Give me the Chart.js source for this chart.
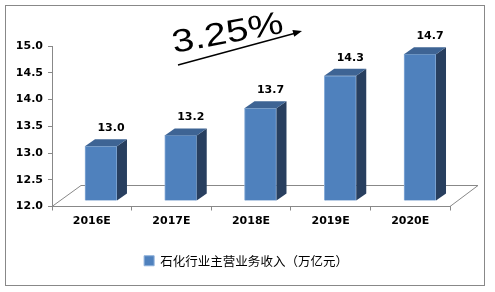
<!DOCTYPE html>
<html>
<head>
<meta charset="utf-8">
<script src="https://cdn.jsdelivr.net/npm/chart.js@4"></script>
<style>
  body { margin: 0; background: #fff; }
  #wrap { width: 495px; height: 292px; }
</style>
</head>
<body>
<div id="wrap"><canvas id="salechart" width="495" height="292"></canvas></div>
<script>
var years = ["2016E", "2017E", "2018E", "2019E", "2020E"];
var revenue = [13.0, 13.2, 13.7, 14.3, 14.7];
var seriesName = "石化行业主营业务收入（万亿元）";
var growth = "3.25%";
var yTicks = [12.0, 12.5, 13.0, 13.5, 14.0, 14.5, 15.0];

var front = '#4F81BD', topFace = '#3E6494', sideFace = '#283F5F', edge = '#8DB0DA';
var dx = 10, dy = 7;
var numFont = 'bold 11px "DejaVu Sans"';

// frame, floor, 3d faces, value labels and the growth note
var deco = {
    id: 'deco',
    beforeDraw: function(chart) {
        var c = chart.ctx;
        c.save();
        c.fillStyle = '#fff';
        c.fillRect(0, 0, chart.width, chart.height);
        c.strokeStyle = '#888';
        c.lineWidth = 1;
        c.strokeRect(5.5, 5.5, 479, 280);
        c.restore();
    },
    beforeDatasetsDraw: function(chart) {
        var a = chart.chartArea, c = chart.ctx;
        c.save();
        c.strokeStyle = '#888';
        c.lineWidth = 1;
        c.beginPath();
        c.moveTo(a.left, a.bottom);
        c.lineTo(a.left + 29, a.bottom - 21);
        c.lineTo(a.right + 28, a.bottom - 21);
        c.lineTo(a.right, a.bottom);
        c.stroke();
        c.restore();
    },
    afterDatasetsDraw: function(chart) {
        var c = chart.ctx;
        var meta = chart.getDatasetMeta(0);
        c.save();
        meta.data.forEach(function(bar, i) {
            var p = bar.getProps(['x', 'y', 'base', 'width'], true);
            var l = p.x - p.width / 2, r = p.x + p.width / 2;
            c.fillStyle = sideFace;
            c.beginPath();
            c.moveTo(r, p.y); c.lineTo(r + dx, p.y - dy);
            c.lineTo(r + dx, p.base - dy); c.lineTo(r, p.base);
            c.closePath(); c.fill();
            c.fillStyle = topFace;
            c.beginPath();
            c.moveTo(l, p.y); c.lineTo(l + dx, p.y - dy);
            c.lineTo(r + dx, p.y - dy); c.lineTo(r, p.y);
            c.closePath(); c.fill();
            c.fillStyle = '#000';
            c.font = numFont;
            c.textAlign = 'center';
            c.textBaseline = 'middle';
            c.fillText(revenue[i].toFixed(1), p.x + 10, p.y - 18);
        });
        c.restore();

        // growth note
        c.save();
        c.translate(174, 53);
        c.rotate(-10.5 * Math.PI / 180);
        c.scale(1.24, 1);
        c.fillStyle = '#000';
        c.font = '32px "Liberation Sans"';
        c.textBaseline = 'alphabetic';
        c.fillText(growth, 0, 0);
        c.restore();

        c.save();
        c.strokeStyle = '#000';
        c.fillStyle = '#000';
        c.lineWidth = 1.3;
        c.beginPath();
        c.moveTo(178, 65);
        c.lineTo(296, 33);
        c.stroke();
        var ang = Math.atan2(31 - 65, 302 - 178);
        c.translate(302, 31);
        c.rotate(ang);
        c.beginPath();
        c.moveTo(0, 0); c.lineTo(-9, -3.5); c.lineTo(-9, 3.5);
        c.closePath(); c.fill();
        c.restore();
    }
};

var ctx = document.getElementById('salechart');
var chart = new Chart(ctx, {
    type: 'bar',
    data: {
        labels: years,
        datasets: [{
            label: seriesName,
            data: revenue.map(function(v, i) { return { x: i, y: v }; }),
            xAxisID: 'x2',
            yAxisID: 'y2',
            base: 12,
            backgroundColor: front,
            borderColor: edge,
            borderWidth: 1,
            barThickness: 32
        }]
    },
    options: {
        responsive: false,
        animation: false,
        layout: { padding: { left: 10, right: 13, top: 46, bottom: 15 } },
        plugins: {
            legend: {
                position: 'bottom',
                labels: {
                    boxWidth: 10,
                    boxHeight: 10,
                    padding: 10,
                    color: '#000',
                    font: { size: 12.5, family: '"Noto Sans CJK SC"' }
                }
            },
            tooltip: { enabled: false }
        },
        scales: {
            x: {
                type: 'category',
                labels: years,
                offset: true,
                grid: { display: true, drawOnChartArea: false, tickLength: 4, color: '#888', offset: true },
                border: { display: true, color: '#888' },
                ticks: { color: '#000', padding: 4, font: { size: 11, weight: 'bold', family: '"DejaVu Sans"' } },
                afterFit: function(s) { s.height = 38; }
            },
            y: {
                type: 'linear',
                position: 'left',
                min: 12,
                max: 15,
                afterBuildTicks: function(s) { s.ticks = yTicks.map(function(v) { return { value: v }; }); },
                grid: { display: true, drawOnChartArea: false, tickLength: 4, color: '#888' },
                border: { display: true, color: '#888' },
                ticks: {
                    color: '#000', padding: 5,
                    font: { size: 11, weight: 'bold', family: '"DejaVu Sans"' },
                    callback: function(v) { return Number(v).toFixed(1); }
                },
                afterFit: function(s) { s.width = 42; }
            },
            x2: { type: 'linear', display: false, offset: false, min: -0.614, max: 4.376 },
            // bar scale; kept invisible on the right, it reserves the room right of the floor
            y2: {
                type: 'linear', position: 'right', display: true, min: 11.8875, max: 14.85,
                grid: { display: false }, border: { display: false }, ticks: { display: false },
                afterFit: function(s) { s.width = 32; }
            }
        }
    },
    plugins: [deco]
});
</script>
</body>
</html>
